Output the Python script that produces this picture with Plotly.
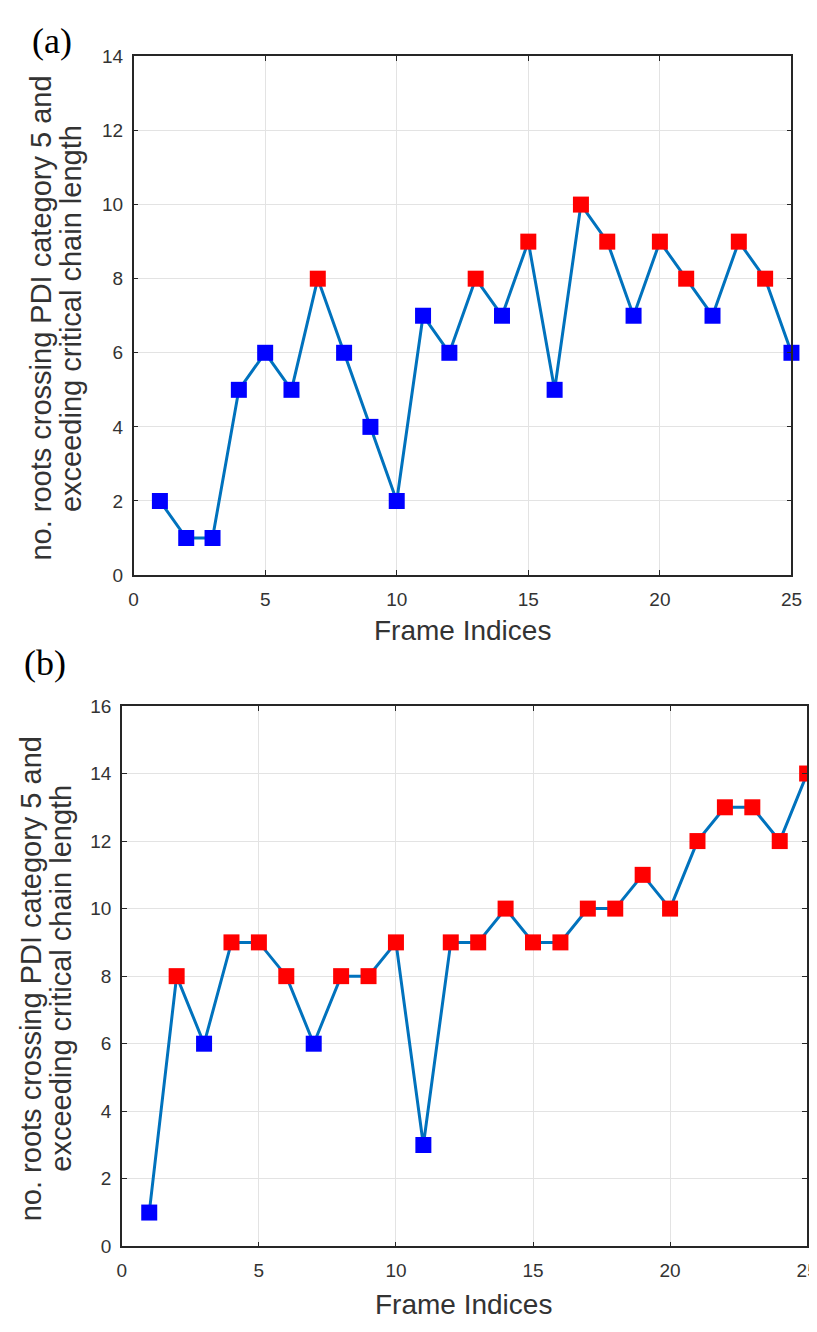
import plotly.graph_objects as go

W, H = 817, 1332

frames = list(range(1, 26))
counts_a = [2, 1, 1, 5, 6, 5, 8, 6, 4, 2, 7, 6, 8, 7, 9, 5, 10, 9, 7, 9, 8, 7, 9, 8, 6]
flags_a = ["B", "B", "B", "B", "B", "B", "R", "B", "B", "B", "B", "B", "R", "B", "R", "B",
           "R", "R", "B", "R", "R", "B", "R", "R", "B"]
counts_b = [1, 8, 6, 9, 9, 8, 6, 8, 8, 9, 3, 9, 9, 10, 9, 9, 10, 10, 11, 10, 12, 13, 13, 12, 14]
flags_b = ["B", "R", "B", "R", "R", "R", "B", "R", "R", "R", "B", "R", "R", "R", "R", "R",
           "R", "R", "R", "R", "R", "R", "R", "R", "R"]

x_ticks = [0, 5, 10, 15, 20, 25]
y_ticks_a = [0, 2, 4, 6, 8, 10, 12, 14]
y_ticks_b = [0, 2, 4, 6, 8, 10, 12, 14, 16]

ytitle_1 = "no. roots crossing PDI category 5 and"
ytitle_2 = "exceeding critical chain length"
xtitle = "Frame Indices"

LINE = "#0072BD"
cmap = {"B": "#0000FF", "R": "#FF0000"}
AX = "#262626"
GRID = "#e3e3e3"
TXT = "#333333"
FONT = "Liberation Sans, Arial, sans-serif"
SERIF = "Liberation Serif, Times New Roman, serif"

fig = go.Figure()
fig.add_trace(go.Scatter(x=frames, y=counts_a, mode="lines+markers", xaxis="x", yaxis="y",
                         line=dict(color=LINE, width=3),
                         marker=dict(symbol="square", size=16, color=[cmap[f] for f in flags_a],
                                     line=dict(width=0)),
                         showlegend=False, cliponaxis=False))
fig.add_trace(go.Scatter(x=frames, y=counts_b, mode="lines+markers", xaxis="x2", yaxis="y2",
                         line=dict(color=LINE, width=3),
                         marker=dict(symbol="square", size=16, color=[cmap[f] for f in flags_b],
                                     line=dict(width=0)),
                         showlegend=False, cliponaxis=False))


def common():
    return dict(showgrid=True, gridcolor=GRID, gridwidth=1, zeroline=False,
                showline=True, linecolor=AX, linewidth=1.5, mirror="ticks",
                ticks="inside", ticklen=5, tickcolor=AX, tickwidth=1,
                tickfont=dict(family=FONT, size=19, color=TXT))


def xax(domain, anchor):
    d = common()
    d.update(domain=domain, anchor=anchor, range=[0, 25], tickvals=x_ticks, ticklabelstandoff=6)
    return d


def yax(domain, anchor, rng, tv):
    d = common()
    d.update(domain=domain, anchor=anchor, range=rng, tickvals=tv, ticklabelstandoff=5)
    return d


def px(v):
    return v / W


def py(v):
    return 1 - v / H


fig.update_layout(
    width=W, height=H,
    margin=dict(l=0, r=0, t=0, b=0),
    paper_bgcolor="white", plot_bgcolor="white",
    xaxis=xax([px(123), px(794)], "y"),
    yaxis=yax([py(566), py(39)], "x", [0, 14], y_ticks_a),
    xaxis2=xax([px(111), px(810)], "y2"),
    yaxis2=yax([py(1248), py(699)], "x2", [0, 16], y_ticks_b),
)

ann = []


def add(text, x, y, size, family=FONT, color=TXT, angle=0, xanchor="center", yanchor="middle"):
    ann.append(dict(text=text, x=px(x), y=py(y), xref="paper", yref="paper",
                    xanchor=xanchor, yanchor=yanchor, textangle=angle, showarrow=False,
                    font=dict(family=family, size=size, color=color)))


# panel labels
add("(a)", 17, 23, 36, family=SERIF, color="black", xanchor="left")
add("(b)", 9, 655, 36, family=SERIF, color="black", xanchor="left")
# y titles (two lines, tight spacing)
add(ytitle_1, 29, 305, 29, angle=-90)
add(ytitle_2, 59, 305, 29, angle=-90)
add(ytitle_1, 18, 976, 29, angle=-90)
add(ytitle_2, 49, 976, 29, angle=-90)
# x titles
add(xtitle, 458, 622, 28)
add(xtitle, 460, 1307, 28)
fig.update_layout(annotations=ann)

fig.write_html("out.html")
